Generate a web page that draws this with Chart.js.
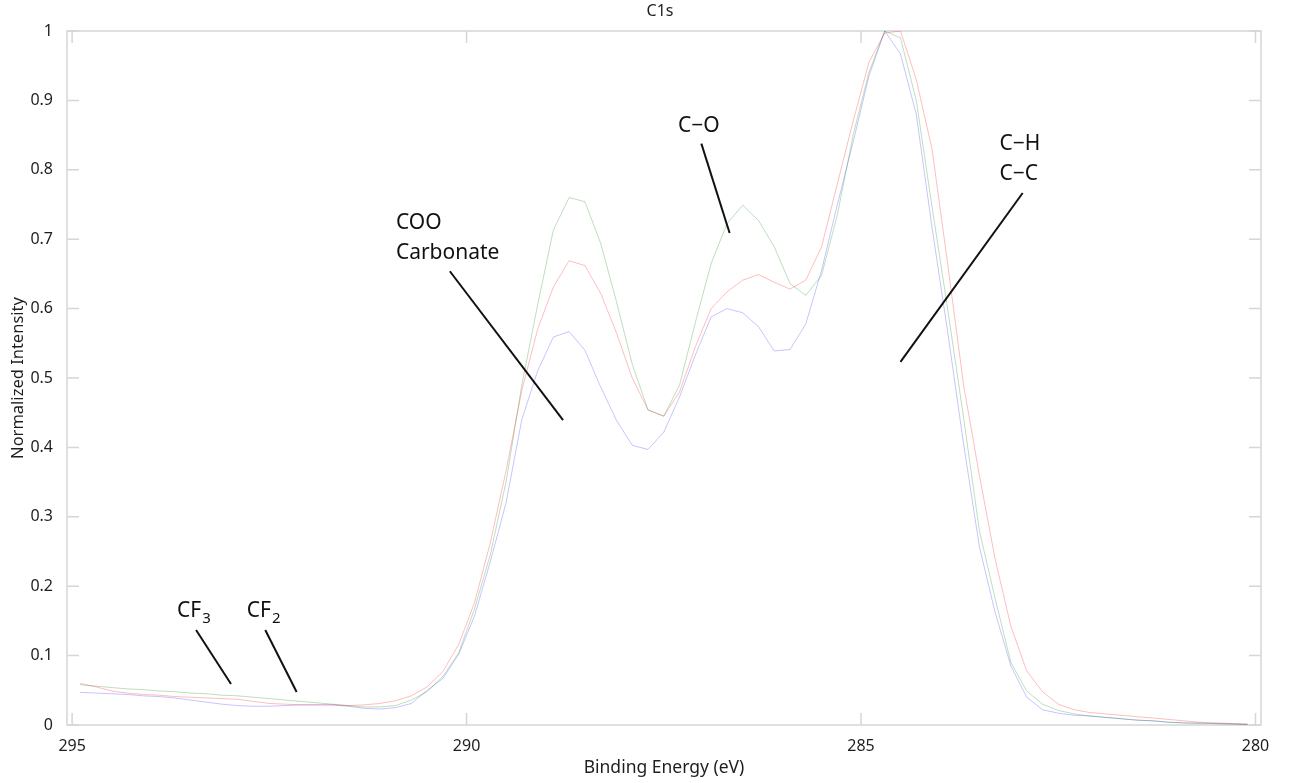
<!DOCTYPE html>
<html>
<head>
<meta charset="utf-8">
<title>C1s</title>
<script src="https://cdn.jsdelivr.net/npm/chart.js@4/dist/chart.umd.min.js"></script>
<style>
  html, body { margin: 0; padding: 0; background: #ffffff; }
  canvas { display: block; }
</style>
</head>
<body>
<canvas id="c1s" width="1289" height="783"></canvas>
<script>
// Binding energy grid (eV), 0.2 eV steps
const bindingEnergy = [
  294.9, 294.7, 294.5, 294.3, 294.1, 293.9, 293.7, 293.5, 293.3, 293.1,
  292.9, 292.7, 292.5, 292.3, 292.1, 291.9, 291.7, 291.5, 291.3, 291.1,
  290.9, 290.7, 290.5, 290.3, 290.1, 289.9, 289.7, 289.5, 289.3, 289.1,
  288.9, 288.7, 288.5, 288.3, 288.1, 287.9, 287.7, 287.5, 287.3, 287.1,
  286.9, 286.7, 286.5, 286.3, 286.1, 285.9, 285.7, 285.5, 285.3, 285.1,
  284.9, 284.7, 284.5, 284.3, 284.1, 283.9, 283.7, 283.5, 283.3, 283.1,
  282.9, 282.7, 282.5, 282.3, 282.1, 281.9, 281.7, 281.5, 281.3, 281.1,
  280.9, 280.7, 280.5, 280.3, 280.1
];

// Normalized C1s intensity, three spectra
const intensityRed = [
  0.060, 0.055, 0.049, 0.046, 0.044, 0.043, 0.041, 0.040, 0.039, 0.038,
  0.037, 0.034, 0.031, 0.030, 0.029, 0.029, 0.029, 0.028, 0.029, 0.031,
  0.035, 0.042, 0.055, 0.077, 0.116, 0.176, 0.262, 0.366, 0.482, 0.570,
  0.631, 0.669, 0.662, 0.622, 0.565, 0.500, 0.454, 0.445, 0.480, 0.545,
  0.600, 0.624, 0.641, 0.649, 0.638, 0.628, 0.641, 0.689, 0.780, 0.870,
  0.955, 0.997, 1.000, 0.930, 0.830, 0.663, 0.490, 0.360, 0.239, 0.142,
  0.078, 0.048, 0.030, 0.022, 0.018, 0.016, 0.014, 0.012, 0.010, 0.008,
  0.006, 0.004, 0.003, 0.002, 0.001
];
const intensityGreen = [
  0.058, 0.056, 0.054, 0.052, 0.051, 0.049, 0.048, 0.046, 0.045, 0.043,
  0.042, 0.040, 0.038, 0.036, 0.034, 0.032, 0.030, 0.028, 0.026, 0.026,
  0.028, 0.036, 0.048, 0.070, 0.104, 0.167, 0.245, 0.350, 0.490, 0.605,
  0.713, 0.760, 0.754, 0.694, 0.610, 0.520, 0.454, 0.445, 0.490, 0.580,
  0.665, 0.722, 0.749, 0.727, 0.689, 0.636, 0.619, 0.648, 0.735, 0.850,
  0.940, 1.000, 0.990, 0.900, 0.747, 0.598, 0.443, 0.280, 0.182, 0.090,
  0.049, 0.030, 0.021, 0.016, 0.013, 0.011, 0.009, 0.007, 0.006, 0.004,
  0.003, 0.002, 0.002, 0.001, 0.001
];
const intensityBlue = [
  0.047, 0.046, 0.045, 0.044, 0.042, 0.041, 0.039, 0.036, 0.033, 0.030,
  0.028, 0.027, 0.027, 0.028, 0.029, 0.029, 0.029, 0.027, 0.024, 0.023,
  0.025, 0.031, 0.050, 0.067, 0.102, 0.157, 0.235, 0.320, 0.440, 0.510,
  0.559, 0.567, 0.540, 0.487, 0.439, 0.403, 0.397, 0.422, 0.473, 0.533,
  0.588, 0.600, 0.594, 0.574, 0.539, 0.541, 0.578, 0.655, 0.750, 0.840,
  0.935, 1.000, 0.967, 0.880, 0.717, 0.565, 0.405, 0.257, 0.162, 0.085,
  0.040, 0.022, 0.017, 0.014, 0.013, 0.011, 0.009, 0.007, 0.006, 0.004,
  0.003, 0.003, 0.002, 0.002, 0.001
];

const xTicks = [295, 290, 285, 280];
const yTicks = [0, 0.1, 0.2, 0.3, 0.4, 0.5, 0.6, 0.7, 0.8, 0.9, 1];

// Peak assignments: label lines (baseline in data units), optional subscript,
// and a leader line from [E1, I1] to [E2, I2]
const callouts = [
  { lines: ['CF'], sub: '3', at: 293.67, base: [0.1551], leader: [293.429, 0.1368, 292.986, 0.0590] },
  { lines: ['CF'], sub: '2', at: 292.787, base: [0.1551], leader: [292.552, 0.1368, 292.154, 0.0475] },
  { lines: ['COO', 'Carbonate'], at: 290.896, base: [0.7153, 0.6721], leader: [290.212, 0.6538, 288.777, 0.4392] },
  { lines: ['C\u2212O'], at: 287.32, base: [0.8544], leader: [287.024, 0.8377, 286.666, 0.7090] },
  { lines: ['C\u2212H', 'C\u2212C'], at: 283.246, base: [0.8280, 0.7849], leader: [282.951, 0.7666, 284.500, 0.5232] }
];

const plotTitle = 'C1s';
const FONT = '"Noto Sans", "Liberation Sans", sans-serif';

// Light box around the plot with inward tick marks on all four sides,
// plus the plot title centred above it
const boxFrame = {
  id: 'boxFrame',
  beforeDatasetsDraw(chart) {
    const { ctx, chartArea: a, scales: { x, y } } = chart;
    const len = 12;
    ctx.save();
    ctx.strokeStyle = '#d6d6d6';
    ctx.lineWidth = 1.5;
    ctx.strokeRect(a.left, a.top, a.right - a.left, a.bottom - a.top);
    ctx.beginPath();
    x.ticks.forEach(t => {
      const px = x.getPixelForValue(t.value);
      ctx.moveTo(px, a.bottom); ctx.lineTo(px, a.bottom - len);
      ctx.moveTo(px, a.top); ctx.lineTo(px, a.top + len);
    });
    y.ticks.forEach(t => {
      const py = y.getPixelForValue(t.value);
      ctx.moveTo(a.left, py); ctx.lineTo(a.left + len, py);
      ctx.moveTo(a.right, py); ctx.lineTo(a.right - len, py);
    });
    ctx.stroke();

    ctx.fillStyle = '#1e1e1e';
    ctx.font = '16px ' + FONT;
    ctx.textAlign = 'center';
    ctx.textBaseline = 'middle';
    ctx.fillText(plotTitle, (a.left + a.right) / 2 - 4, a.top - 20);
    ctx.restore();
  }
};

// Text labels with leader lines, placed in data coordinates
const peakLabels = {
  id: 'peakLabels',
  afterDatasetsDraw(chart) {
    const { ctx, scales: { x, y } } = chart;
    ctx.save();
    ctx.strokeStyle = '#111111';
    ctx.fillStyle = '#111111';
    ctx.lineWidth = 2;
    ctx.textAlign = 'left';
    ctx.textBaseline = 'alphabetic';
    callouts.forEach(c => {
      const [e1, i1, e2, i2] = c.leader;
      ctx.beginPath();
      ctx.moveTo(x.getPixelForValue(e1), y.getPixelForValue(i1));
      ctx.lineTo(x.getPixelForValue(e2), y.getPixelForValue(i2));
      ctx.stroke();
      const px = x.getPixelForValue(c.at);
      c.lines.forEach((txt, i) => {
        const py = y.getPixelForValue(c.base[i]);
        ctx.font = '21px ' + FONT;
        ctx.fillText(txt, px, py);
        if (c.sub && i === c.lines.length - 1) {
          const w = ctx.measureText(txt).width;
          ctx.font = '15px ' + FONT;
          ctx.fillText(c.sub, px + w + 1, py + 6);
        }
      });
    });
    ctx.restore();
  }
};

const spectrum = (vals) => bindingEnergy.map((e, i) => ({ x: e, y: vals[i] }));

new Chart(document.getElementById('c1s'), {
  type: 'line',
  data: {
    datasets: [
      { data: spectrum(intensityRed), borderColor: 'rgba(255,0,0,0.26)', borderWidth: 1, pointRadius: 0, tension: 0 },
      { data: spectrum(intensityGreen), borderColor: 'rgba(0,128,0,0.26)', borderWidth: 1, pointRadius: 0, tension: 0 },
      { data: spectrum(intensityBlue), borderColor: 'rgba(0,0,255,0.23)', borderWidth: 1, pointRadius: 0, tension: 0 }
    ]
  },
  options: {
    responsive: false,
    animation: false,
    devicePixelRatio: 1,
    layout: { padding: { left: 0, right: 28, top: 31, bottom: 0 } },
    plugins: {
      legend: { display: false },
      tooltip: { enabled: false },
      title: { display: false }
    },
    scales: {
      x: {
        type: 'linear',
        reverse: true,
        min: 279.93,
        max: 295.065,
        afterBuildTicks: s => { s.ticks = xTicks.map(v => ({ value: v })); },
        afterFit: s => { s.height = 58; },
        grid: { display: false },
        border: { display: false },
        ticks: {
          color: '#1e1e1e',
          font: { family: FONT, size: 16 },
          padding: 4,
          maxRotation: 0,
          callback: v => String(v)
        },
        title: {
          display: true,
          text: 'Binding Energy (eV)',
          color: '#1e1e1e',
          font: { family: FONT, size: 17.5 },
          padding: { top: 0, bottom: 4 }
        }
      },
      y: {
        type: 'linear',
        min: 0,
        max: 1,
        afterBuildTicks: s => { s.ticks = yTicks.map(v => ({ value: v })); },
        afterFit: s => { s.width = 67; },
        grid: { display: false },
        border: { display: false },
        ticks: {
          color: '#1e1e1e',
          font: { family: FONT, size: 16 },
          padding: 6,
          callback: v => String(Number(v.toFixed(1)))
        },
        title: {
          display: true,
          text: 'Normalized Intensity',
          color: '#1e1e1e',
          font: { family: FONT, size: 16.5 },
          padding: { top: 8, bottom: 0 }
        }
      }
    }
  },
  plugins: [boxFrame, peakLabels]
});
</script>
</body>
</html>
